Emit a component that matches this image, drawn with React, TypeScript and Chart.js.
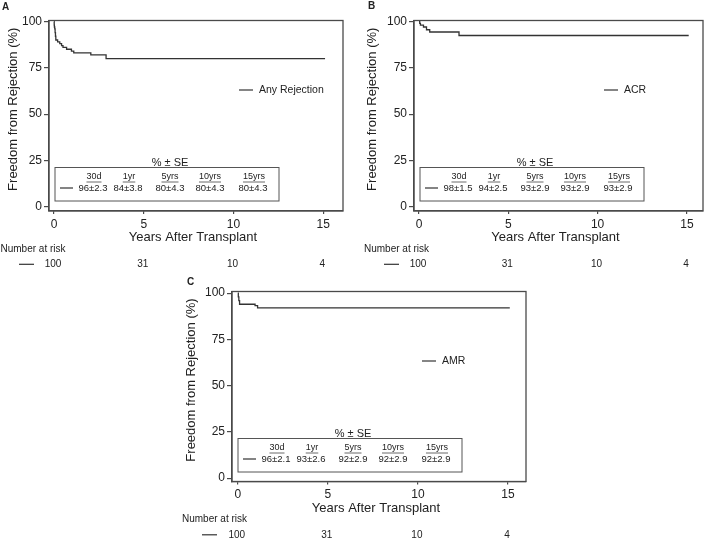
import React, { useEffect, useRef } from 'react';
import { Chart, registerables } from 'chart.js';
Chart.register(...registerables);

// ---------- data ----------
const yearTicks = [0, 5, 10, 15];
const pctTicks = [0, 25, 50, 75, 100];
const seHeaders = ['30d', '1yr', '5yrs', '10yrs', '15yrs'];
const riskYears = [0, 5, 10, 15];
const riskCounts = [100, 31, 10, 4];

const timesA = [0, 0.01, 0.02, 0.04, 0.06, 0.08, 0.1, 0.2, 0.32, 0.42, 0.5, 0.7, 0.97, 1.1, 2.05, 2.9, 15.1];
const survA = [100, 98, 97, 96, 94, 92, 90, 89, 88, 87, 86, 85, 84, 83, 82, 80, 80];
const seA = ['96±2.3', '84±3.8', '80±4.3', '80±4.3', '80±4.3'];

const timesB = [0, 0.04, 0.08, 0.25, 0.42, 0.6, 2.24, 15.1];
const survB = [100, 99, 98, 97, 95.5, 94.3, 92.4, 92.4];
const seB = ['98±1.5', '94±2.5', '93±2.9', '93±2.9', '93±2.9'];

const timesC = [0, 0.03, 0.06, 0.1, 0.96, 1.1, 15.1];
const survC = [100, 98, 96, 94, 93.3, 92, 92];
const seC = ['96±2.1', '93±2.6', '92±2.9', '92±2.9', '92±2.9'];

// ---------- style ----------
const LINE = '#4a4a4a';
const TEXT = '#222';
const FONT = '"Liberation Sans", Arial, Helvetica, sans-serif';

type PanelCfg = {
  key: string;
  left: number; top: number; w: number; h: number;
  area: { left: number; top: number; right: number; bottom: number };
  xMin: number; xMax: number; yMin: number; yMax: number;
  letter: string; letterDx: number; letterDy: number;
  yTitleDx: number;
  legend: string;
  times: number[]; surv: number[]; se: string[];
};

const panels: PanelCfg[] = [
  {
    key: 'A', left: 0, top: 0, w: 350, h: 275,
    area: { left: 49, top: 20.5, right: 343, bottom: 211 },
    xMin: -0.28, xMax: 16.1, yMin: -2.2, yMax: 100.5,
    letter: 'A', letterDx: -47, letterDy: -13, yTitleDx: -36,
    legend: 'Any Rejection', times: timesA, surv: survA, se: seA,
  },
  {
    key: 'B', left: 350, top: 0, w: 359, h: 275,
    area: { left: 64, top: 20.5, right: 353, bottom: 211 },
    xMin: -0.28, xMax: 15.9, yMin: -2.2, yMax: 100.5,
    letter: 'B', letterDx: -46, letterDy: -14.5, yTitleDx: -41.5,
    legend: 'ACR', times: timesB, surv: survB, se: seB,
  },
  {
    key: 'C', left: 160, top: 270, w: 380, h: 269,
    area: { left: 72, top: 21.5, right: 366, bottom: 211.5 },
    xMin: -0.32, xMax: 16.0, yMin: -1.8, yMax: 100.9,
    letter: 'C', letterDx: -45, letterDy: -9.5, yTitleDx: -41,
    legend: 'AMR', times: timesC, surv: survC, se: seC,
  },
];

const headerDx = [39, 74, 115, 155, 199];
const valueDx = [38, 73, 115, 155, 198];

function drawExtras(chart: any, cfg: PanelCfg) {
  const { ctx, chartArea: a, scales } = chart;
  const xs = scales.x;
  ctx.save();
  // full box
  ctx.strokeStyle = LINE;
  ctx.lineWidth = 1.3;
  ctx.strokeRect(a.left, a.top, a.right - a.left, a.bottom - a.top);

  ctx.fillStyle = TEXT;
  // panel letter
  ctx.font = `bold 10px ${FONT}`;
  ctx.textAlign = 'left';
  ctx.textBaseline = 'middle';
  ctx.fillText(cfg.letter, a.left + cfg.letterDx, a.top + cfg.letterDy);

  // y title
  ctx.save();
  ctx.translate(a.left + cfg.yTitleDx, (a.top + a.bottom) / 2 - 6.5);
  ctx.rotate(-Math.PI / 2);
  ctx.font = `13px ${FONT}`;
  ctx.textAlign = 'center';
  ctx.textBaseline = 'middle';
  ctx.fillText('Freedom from Rejection (%)', 0, 0);
  ctx.restore();

  // x title
  ctx.font = `13px ${FONT}`;
  ctx.textAlign = 'center';
  ctx.textBaseline = 'middle';
  ctx.fillText('Years After Transplant', (a.left + a.right) / 2 - 3, a.bottom + 26.5);

  // legend
  ctx.strokeStyle = '#333';
  ctx.lineWidth = 1.2;
  const ly = a.top + 69.5;
  ctx.beginPath();
  ctx.moveTo(a.left + 190, ly);
  ctx.lineTo(a.left + 204, ly);
  ctx.stroke();
  ctx.font = `10.5px ${FONT}`;
  ctx.textAlign = 'left';
  ctx.fillText(cfg.legend, a.left + 210, ly);

  // SE table
  const bx = a.left + 6;
  const by = a.top + 147;
  ctx.strokeStyle = '#555';
  ctx.lineWidth = 1;
  ctx.strokeRect(bx, by, 224, 33.5);
  ctx.font = `11px ${FONT}`;
  ctx.textAlign = 'center';
  ctx.fillText('% ± SE', bx + 115, by - 5);
  ctx.font = `9px ${FONT}`;
  const hy = by + 9.5;
  seHeaders.forEach((h, i) => {
    const cx = bx + headerDx[i];
    ctx.fillText(h, cx, hy);
    const tw = ctx.measureText(h).width;
    ctx.beginPath();
    ctx.moveTo(cx - tw / 2, hy + 5);
    ctx.lineTo(cx + tw / 2, hy + 5);
    ctx.strokeStyle = '#444';
    ctx.lineWidth = 0.8;
    ctx.stroke();
  });
  const vy = by + 20.5;
  ctx.font = `9.5px ${FONT}`;
  cfg.se.forEach((v, i) => ctx.fillText(v, bx + valueDx[i], vy));
  ctx.strokeStyle = '#333';
  ctx.lineWidth = 1.2;
  ctx.beginPath();
  ctx.moveTo(bx + 5, vy);
  ctx.lineTo(bx + 18, vy);
  ctx.stroke();

  // number at risk
  ctx.font = `10px ${FONT}`;
  ctx.textAlign = 'left';
  ctx.fillText('Number at risk', Math.max(a.left - 50, 0.5), a.bottom + 38);
  const ry = a.bottom + 53.3;
  ctx.beginPath();
  ctx.moveTo(a.left - 30, ry);
  ctx.lineTo(a.left - 15, ry);
  ctx.stroke();
  ctx.textAlign = 'center';
  riskCounts.forEach((n, i) => {
    ctx.fillText(String(n), xs.getPixelForValue(riskYears[i]) - 1, ry);
  });
  ctx.restore();
}

function Panel({ cfg }: { cfg: PanelCfg }) {
  const ref = useRef<HTMLCanvasElement | null>(null);
  useEffect(() => {
    if (!ref.current) return;
    const tickFont = { family: FONT, size: 12 };
    const chart = new Chart(ref.current, {
      type: 'line',
      data: {
        datasets: [
          {
            label: cfg.legend,
            data: cfg.times.map((t, i) => ({ x: t, y: cfg.surv[i] })),
            stepped: true,
            borderColor: '#333',
            borderWidth: 1.3,
            pointRadius: 0,
            fill: false,
          },
        ],
      },
      options: {
        animation: false,
        responsive: false,
        events: [],
        layout: { padding: { left: 0, top: cfg.area.top, right: cfg.w - cfg.area.right, bottom: 0 } },
        plugins: { legend: { display: false }, tooltip: { enabled: false } },
        scales: {
          x: {
            type: 'linear',
            min: cfg.xMin,
            max: cfg.xMax,
            afterBuildTicks: (s: any) => { s.ticks = yearTicks.map((v) => ({ value: v })); },
            afterFit: (s: any) => { s.height = cfg.h - cfg.area.bottom; },
            grid: { display: true, drawOnChartArea: false, drawTicks: true, tickLength: 3, color: LINE, lineWidth: 1.2 },
            border: { display: true, color: LINE, width: 1.3 },
            ticks: { font: tickFont, color: TEXT, padding: 3, maxRotation: 0, autoSkip: false },
          },
          y: {
            type: 'linear',
            min: cfg.yMin,
            max: cfg.yMax,
            afterBuildTicks: (s: any) => { s.ticks = pctTicks.map((v) => ({ value: v })); },
            afterFit: (s: any) => { s.width = cfg.area.left; },
            grid: { display: true, drawOnChartArea: false, drawTicks: true, tickLength: 5, color: LINE, lineWidth: 1.2 },
            border: { display: true, color: LINE, width: 1.3 },
            ticks: { font: tickFont, color: TEXT, padding: 2, autoSkip: false },
          },
        },
      } as any,
      plugins: [{ id: 'extras' + cfg.key, afterDraw: (c: any) => drawExtras(c, cfg) }],
    });
    return () => chart.destroy();
  }, [cfg]);
  return (
    <div style={{ position: 'absolute', left: cfg.left, top: cfg.top, width: cfg.w, height: cfg.h }}>
      <canvas ref={ref} width={cfg.w} height={cfg.h} style={{ width: cfg.w, height: cfg.h, display: 'block' }} />
    </div>
  );
}

export default function App() {
  return (
    <div style={{ position: 'absolute', left: 0, top: 0, width: 709, height: 539, background: '#fff', overflow: 'hidden' }}>
      {panels.map((p) => (
        <Panel key={p.key} cfg={p} />
      ))}
    </div>
  );
}
